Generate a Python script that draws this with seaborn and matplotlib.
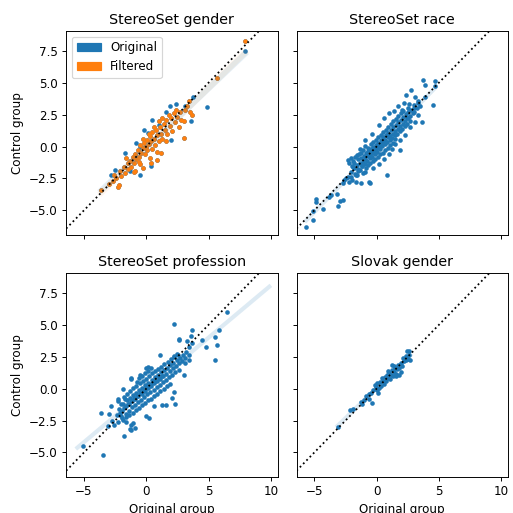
import matplotlib
matplotlib.use("Agg")
import matplotlib.pyplot as plt
from matplotlib.patches import Patch
import seaborn as sns
import pandas as pd


# StereoSet gender: points only in the original set, and the filtered subset
gender_extra = [(-2.5, -1.85), (-1.73, -0.52), (0.37, -1.5), (0.13, 1.05), (1.06, 1.7),
                (1.6, 2.7), (2.4, 3.3), (3.15, 3.15), (3.75, 3.85), (4.9, 3.1),
                (7.9, 7.5), (-0.8, 0.3), (-1.3, -1.9), (0.5, 2.1), (-0.2, 1.3),
                (2.0, 0.5), (3.6, 2.0), (1.9, 3.2), (-2.8, -2.2), (-0.53, 0.0),
                (-0.9, -0.65), (-0.5, -2.2)]
gender_filtered = [(-3.6, -3.4), (-3.0, -2.9), (-2.7, -2.7), (-2.3, -3.15), (-2.6, -2.2),
                   (-2.4, -2.5), (-2.1, -1.9), (-2.0, -2.3), (-1.8, -1.6), (-1.7, -2.1),
                   (-1.5, -1.3), (-1.5, -1.8), (-1.3, -1.1), (-1.2, -1.6), (-1.1, -0.8),
                   (-1.0, -1.3), (-0.9, -0.6), (-0.8, -1.0), (-0.7, -0.3), (-0.6, -0.8),
                   (-0.5, -1.4), (-0.5, 0.1), (-0.4, -0.5), (-0.3, -0.1), (-0.24, -1.7),
                   (-0.2, 0.3), (-0.1, -0.6), (0.0, 0.0), (0.1, 0.5), (0.1, -0.3),
                   (0.2, 0.2), (0.3, -0.9), (0.3, 0.8), (0.4, 0.4), (0.5, -0.2),
                   (0.5, 1.1), (0.6, 0.6), (0.7, 0.1), (0.8, 1.3), (0.85, -1.07),
                   (0.9, 0.9), (1.0, 0.4), (1.1, 1.5), (1.2, 1.0), (1.3, 0.6),
                   (1.4, 1.8), (1.5, 1.3), (1.6, 2.1), (1.7, 1.0), (1.8, 2.5),
                   (1.9, 1.6), (2.0, 2.2), (2.1, 1.2), (2.2, 2.6), (2.3, 1.9),
                   (2.4, 2.9), (2.5, 2.3), (2.6, 1.5), (2.7, 2.7), (2.8, 2.1),
                   (3.0, 2.0), (3.0, 0.7), (3.1, 2.9), (3.3, 3.2), (3.5, 2.7),
                   (3.7, 2.5), (3.4, 3.6), (5.7, 5.4), (7.9, 8.3), (-1.6, -0.9),
                   (-0.9, -1.9), (0.4, -1.3), (1.2, -0.5), (-2.2, -3.0), (-1.0, -2.0),
                   (0.2, 1.0), (0.6, 1.5), (-0.3, 0.6), (1.0, 2.0), (1.6, 0.4),
                   (0.9, -0.4), (-0.6, -1.2), (1.3, 2.2)]

race = [(-5.66, -6.27), (-5.12, -5.72), (-5.07, -5.04), (-4.86, -4.13), (-4.86, -4.31),
        (-4.27, -4.91), (-3.85, -3.92), (-3.66, -3.8), (-3.13, -4.7), (-2.92, -4.24),
        (-2.71, -4.18), (-3.19, -3.71), (-2.73, -2.87), (-2.46, -2.48), (-2.33, -2.35),
        (-2.6, -2.61), (-2.2, -2.75), (-1.94, -2.61), (-1.67, -2.75), (-1.27, -2.87),
        (-0.53, -2.87), (-2.33, -1.04), (-2.2, -1.3), (-2.07, -0.91), (-1.67, -2.22),
        (-0.6, -2.75), (0.85, -2.2), (0.19, 1.7), (1.39, 2.75), (2.39, 4.05),
        (3.72, 5.23), (4.65, 5.15), (4.7, 4.75), (3.86, 4.84), (4.49, 3.27),
        (3.64, 1.91), (1.91, 0.53), (1.91, -0.26), (1.25, -0.18), (2.8, 4.4),
        (3.3, 3.6), (3.1, 3.9), (3.5, 3.2), (3.9, 3.9), (2.9, 2.6),
        (3.3, 2.5), (3.0, 3.0), (2.6, 3.3), (2.2, 3.4), (2.0, 2.9),
        (1.7, 3.2), (1.0, 2.6), (0.6, 2.2), (-0.4, 1.0), (-0.9, 0.5),
        (-1.3, -0.2), (-1.6, -0.7), (-1.9, -1.6), (-1.5, -1.9), (-1.2, -1.5),
        (-0.9, -2.0), (-0.3, -1.7), (0.2, -1.4), (0.6, -1.0), (1.0, -0.6),
        (1.5, 0.2), (2.3, 0.9), (2.7, 1.5), (3.1, 1.9), (2.5, 2.2),
        (-2.04, -1.98), (-1.97, -1.52), (-2.08, -2.41), (-1.93, -1.12),
        (-1.82, -1.71), (-1.76, -2.18), (-1.85, -1.28), (-1.71, -0.83),
        (-1.54, -1.43), (-1.47, -0.98), (-1.58, -2.27), (-1.45, -0.62), (-1.52, -1.74),
        (-1.33, -1.31), (-1.26, -0.87), (-1.35, -1.82), (-1.24, -0.48),
        (-1.12, -1.19), (-1.05, -0.72), (-1.15, -1.53), (-1.08, -0.31), (-1.13, -2.06),
        (-0.92, -0.94), (-0.86, -0.47), (-0.95, -1.34), (-0.88, -1.72), (-0.91, 0.03),
        (-0.73, -0.78), (-0.67, -0.38), (-0.75, -1.12), (-0.69, -0.08), (-0.72, -1.48),
        (-0.52, -0.63), (-0.46, -0.17), (-0.55, -0.92), (-0.48, 0.22), (-0.53, -1.31),
        (-0.44, -0.41), (-0.33, -0.48), (-0.27, -0.07), (-0.35, -0.82), (-0.26, 0.34),
        (-0.31, -1.13), (-0.24, -0.27), (-0.12, -0.31), (-0.06, 0.12), (-0.14, -0.58),
        (-0.08, 0.51), (-0.11, -0.97), (-0.03, -0.12), (0.08, -0.09), (0.14, 0.28),
        (0.06, -0.42), (0.12, 0.72), (0.09, -0.81), (0.17, 0.02), (0.28, 0.12),
        (0.34, 0.49), (0.26, -0.18), (0.32, 0.93), (0.29, -0.62), (0.36, 0.31),
        (0.48, 0.29), (0.54, 0.72), (0.46, 0.01), (0.52, 1.13), (0.49, -0.47),
        (0.56, 0.42), (0.68, 0.48), (0.74, 0.91), (0.66, 0.19), (0.72, 1.32),
        (0.69, -0.28), (0.88, 0.71), (0.94, 1.08), (0.86, 0.38), (0.92, 1.53),
        (0.89, -0.09), (0.96, 0.82), (1.08, 0.88), (1.14, 1.31), (1.06, 0.52),
        (1.12, 1.78), (1.09, 0.12), (1.28, 1.02), (1.34, 1.52), (1.26, 0.69),
        (1.32, 2.01), (1.29, 0.31), (1.48, 1.22), (1.54, 1.71), (1.46, 0.88),
        (1.52, 2.19), (1.49, 0.58), (1.68, 1.41), (1.74, 1.92), (1.66, 1.02),
        (1.72, 2.38), (1.88, 1.62), (1.94, 2.08), (1.86, 1.19), (1.92, 2.61),
        (2.08, 1.79), (2.14, 2.31), (2.06, 1.38), (2.12, 2.82), (2.28, 2.02),
        (2.34, 2.52), (2.26, 1.61), (2.48, 2.21), (2.54, 2.68), (2.46, 1.79),
        (2.52, 3.02), (2.68, 2.41), (2.74, 2.88), (2.66, 1.98), (2.98, 2.69),
        (3.04, 3.28), (3.21, 2.98), (3.34, 3.42)]

profession = [(-5.05, -4.53), (-3.51, -5.23), (-3.64, -1.91), (-2.84, -1.39), (-2.98, -1.96),
              (-1.86, -0.02), (-1.78, -3.74), (-1.33, -3.14), (-1.2, -2.82), (-1.25, 0.84),
              (0.13, 1.67), (2.2, 5.07), (2.65, 3.84), (3.31, 3.71), (3.66, 4.63),
              (3.05, 1.1), (2.31, -1.2), (1.59, -1.25), (4.51, 3.84), (4.78, 3.27),
              (5.52, 4.05), (5.66, 3.45), (5.52, 2.27), (5.84, 4.63), (6.5, 5.98),
              (-2.26, -0.81), (-2.26, -0.99), (-1.73, -0.81), (-2.79, -2.51), (-2.58, -2.82),
              (-3.06, -2.95), (-1.99, -2.17), (-1.86, -2.43), (-1.59, -2.22), (-1.07, -2.69),
              (-1.2, -3.22), (-0.93, -3.08), (-1.2, 0.76), (-0.72, 0.49), (-0.53, 1.1),
              (0.0, 1.62), (0.0, -2.12), (2.2, -0.26), (2.04, -0.73), (1.27, -1.31),
              (0.66, -1.39), (0.26, -2.3), (1.12, 2.67), (2.65, 3.9), (3.45, 3.27),
              (3.4, 2.27), (3.13, 2.01), (2.52, 2.67), (2.25, 2.53), (3.59, 4.1),
              (3.71, 3.58),
              (-2.31, -2.05), (-2.18, -1.62), (-2.24, -2.58), (-2.05, -1.18), (-2.12, -1.87),
              (-1.93, -1.72), (-1.87, -1.21), (-1.95, -2.33), (-1.82, -0.68), (-1.76, -1.48),
              (-1.63, -1.39), (-1.57, -0.92), (-1.66, -1.95), (-1.54, -0.41), (-1.48, -1.18),
              (-1.61, -2.61), (-1.38, -1.22), (-1.32, -0.71), (-1.41, -1.73), (-1.29, -0.22),
              (-1.35, -2.05), (-1.26, -0.98), (-1.12, -0.96), (-1.06, -0.49), (-1.15, -1.47),
              (-1.03, 0.02), (-1.09, -1.88), (-1.01, -0.74), (-0.88, -0.82), (-0.82, -0.31),
              (-0.91, -1.31), (-0.79, 0.18), (-0.85, -1.71), (-0.76, -0.58), (-0.63, -0.58),
              (-0.57, -0.11), (-0.66, -1.07), (-0.54, 0.42), (-0.61, -1.48), (-0.51, -0.34),
              (-0.59, 0.83), (-0.38, -0.42), (-0.32, 0.07), (-0.41, -0.88), (-0.29, 0.61),
              (-0.36, -1.27), (-0.26, -0.18), (-0.34, 1.02), (-0.13, -0.21), (-0.07, 0.27),
              (-0.16, -0.66), (-0.04, 0.79), (-0.11, -1.11), (-0.01, 0.04), (-0.09, 1.21),
              (0.12, 0.02), (0.18, 0.48), (0.09, -0.43), (0.21, 1.02), (0.14, -0.92),
              (0.24, 0.26), (0.16, 1.38), (0.37, 0.19), (0.43, 0.68), (0.34, -0.27),
              (0.46, 1.19), (0.39, -0.78), (0.49, 0.44), (0.41, 1.58), (0.62, 0.41),
              (0.68, 0.88), (0.59, -0.08), (0.71, 1.36), (0.64, -0.61), (0.74, 0.63),
              (0.87, 0.58), (0.93, 1.07), (0.84, 0.12), (0.96, 1.55), (0.89, -0.41),
              (0.99, 0.81), (1.12, 0.79), (1.18, 1.27), (1.09, 0.31), (1.21, 1.72),
              (1.14, -0.22), (1.24, 1.01), (1.37, 0.98), (1.43, 1.46), (1.34, 0.49),
              (1.46, 1.92), (1.39, -0.02), (1.62, 1.18), (1.68, 1.65), (1.59, 0.68),
              (1.71, 2.11), (1.64, 0.19), (1.87, 1.39), (1.93, 1.84), (1.84, 0.88),
              (1.96, 2.32), (1.89, 0.38), (2.12, 1.58), (2.18, 2.05), (2.09, 1.07),
              (2.21, 2.51), (2.37, 1.78), (2.43, 2.24), (2.34, 1.27), (2.46, 2.72),
              (2.62, 1.98), (2.68, 2.44), (2.59, 1.49), (2.87, 2.19), (2.93, 2.65),
              (3.12, 2.41), (3.18, 2.88), (3.41, 2.62)]

slovak = [(-3.13, -3.0), (-2.12, -1.7), (-1.86, -1.6), (-1.14, -1.18), (-1.0, -0.86),
          (-0.6, -0.81), (-0.34, -1.12), (-0.16, 0.31), (0.05, -0.08), (0.45, 0.84),
          (0.85, 1.1), (1.39, 1.75), (1.78, 1.1), (2.13, 2.4), (2.45, 2.93),
          (2.58, 2.98), (2.71, 2.27), (-0.82, -0.58), (-0.45, -0.35), (-0.28, -0.1),
          (-0.05, 0.12), (0.02, 0.42), (0.18, 0.05), (0.28, 0.55), (0.36, 0.22),
          (0.52, 0.61), (0.61, 0.35), (0.68, 0.92), (0.77, 0.58), (0.92, 0.81),
          (1.02, 1.21), (1.08, 0.72), (1.15, 1.05), (1.22, 1.48), (1.31, 0.98),
          (1.41, 1.32), (1.48, 1.62), (1.55, 1.18), (1.62, 1.51), (1.71, 1.86),
          (1.83, 1.62), (1.92, 2.05), (2.02, 1.78), (2.21, 2.15), (2.32, 2.55),
          (2.4, 2.21), (2.62, 2.62), (1.25, 1.82), (0.95, 1.38), (-0.62, -0.42),
          (-1.28, -1.02), (0.12, -0.35), (1.58, 0.98), (1.95, 1.32), (2.52, 2.35)]

titles = ["StereoSet gender", "StereoSet race", "StereoSet profession", "Slovak gender"]

MARKER_SIZE = 15


def to_df(points):
    return pd.DataFrame(points, columns=["orig", "ctrl"])


def draw_panel(ax, df, color, truncate_range=None):
    sns.scatterplot(data=df, x="orig", y="ctrl", color=color, s=MARKER_SIZE, linewidth=0, ax=ax)
    if truncate_range is not None:
        ax.set_xlim(*truncate_range)
        sns.regplot(data=df, x="orig", y="ctrl", scatter=False, ci=None, truncate=False,
                    color=color, line_kws={"alpha": 0.15, "lw": 3.5}, ax=ax)
    else:
        sns.regplot(data=df, x="orig", y="ctrl", scatter=False, ci=None,
                    color=color, line_kws={"alpha": 0.15, "lw": 3.5}, ax=ax)


fig, axes = plt.subplots(2, 2, figsize=(6, 6), dpi=85.5, sharex=True, sharey=True)
ax1, ax2, ax3, ax4 = axes.flatten()

gender_all = to_df(gender_extra + gender_filtered)
gender_f = to_df(gender_filtered)
sns.scatterplot(data=gender_all, x="orig", y="ctrl", color="C0", s=MARKER_SIZE, linewidth=0, ax=ax1)
sns.scatterplot(data=gender_f, x="orig", y="ctrl", color="C1", s=MARKER_SIZE, linewidth=0, ax=ax1)
sns.regplot(data=gender_all, x="orig", y="ctrl", scatter=False, ci=None, color="C0",
            line_kws={"alpha": 0.12, "lw": 5}, ax=ax1)
sns.regplot(data=gender_f, x="orig", y="ctrl", scatter=False, ci=None, color="C1",
            line_kws={"alpha": 0.07, "lw": 5}, ax=ax1)
ax1.legend(handles=[Patch(color="C0", label="Original"), Patch(color="C1", label="Filtered")],
           loc="upper left")

draw_panel(ax2, to_df(race), "C0")
draw_panel(ax3, to_df(profession), "C0", truncate_range=(-5.53, 9.88))
draw_panel(ax4, to_df(slovak), "C0")

for ax, title in zip(axes.flatten(), titles):
    ax.axline((0, 0), slope=1, color="black", linestyle=":", lw=1.5)
    ax.set_title(title)
    ax.set_xlabel("")
    ax.set_ylabel("")

ax1.set_xlim(-6.43, 10.54)
ax1.set_ylim(-6.93, 9.07)
ax1.set_xticks([-5, 0, 5, 10])
ax1.set_yticks([-5.0, -2.5, 0.0, 2.5, 5.0, 7.5])

ax1.set_ylabel("Control group")
ax3.set_ylabel("Control group")
ax3.set_xlabel("Original group")
ax4.set_xlabel("Original group")

plt.subplots_adjust(left=0.129, right=0.99, top=0.94, bottom=0.07, wspace=0.09, hspace=0.186)
plt.savefig("out.png")
